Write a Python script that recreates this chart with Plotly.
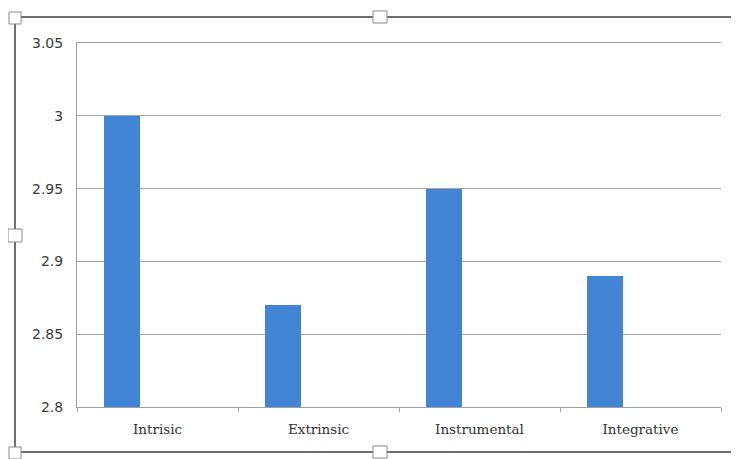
import plotly.graph_objects as go

categories = ["Intrisic", "Extrinsic", "Instrumental", "Integrative"]
values = [3.0, 2.87, 2.95, 2.89]
y_ticks = [2.8, 2.85, 2.9, 2.95, 3.0, 3.05]
y_tick_labels = ["2.8", "2.85", "2.9", "2.95", "3", "3.05"]

# the page body has an 8px margin, so the figure is drawn 8px lower/right
OFF = 8
W, H = 739 - OFF, 459 - OFF
L, R, T, B = 77 - OFF, 18, 43 - OFF, 52
PW, PH = W - L - R, H - T - B

def px(x):
    return (x - OFF - L) / PW

def py(y):
    return 1 - (y - OFF - T) / PH

fig = go.Figure()
fig.add_trace(go.Bar(
    x=categories, y=values,
    marker=dict(color="#4285d4", line=dict(width=0)),
    width=0.22, offset=-0.33,
))

shapes = []
frame = "#6e6e6e"
shapes.append(dict(type="line", xref="paper", yref="paper", x0=px(21), x1=px(739), y0=py(17), y1=py(17), line=dict(color=frame, width=2)))
shapes.append(dict(type="line", xref="paper", yref="paper", x0=px(21), x1=px(739), y0=py(452), y1=py(452), line=dict(color=frame, width=2)))
shapes.append(dict(type="line", xref="paper", yref="paper", x0=px(15), x1=px(15), y0=py(24), y1=py(447), line=dict(color=frame, width=2)))
for (x0, y0, x1, y1) in [(9, 12, 21, 24), (9, 447, 21, 459), (8, 229, 22, 242), (373, 11, 387, 23), (373, 446, 387, 458), (736, 225, 746, 245)]:
    shapes.append(dict(type="rect", xref="paper", yref="paper", x0=px(x0), x1=px(x1), y0=py(y0), y1=py(y1),
                       line=dict(color="#8a8a8a", width=1), fillcolor="white"))

fig.update_layout(
    width=W, height=H,
    margin=dict(l=L, r=R, t=T, b=B),
    paper_bgcolor="white", plot_bgcolor="white",
    showlegend=False,
    bargap=0,
    shapes=shapes,
    xaxis=dict(
        type="category",
        showline=True, linecolor="#a0a0a0", linewidth=1, mirror=True,
        ticks="outside", tickson="boundaries", ticklen=4, tickcolor="#a0a0a0",
        ticklabelstandoff=10,
        showgrid=False,
        tickfont=dict(family="DejaVu Serif", size=13.5, color="#333333"),
        range=[-0.5, 3.5],
    ),
    yaxis=dict(
        range=[2.8, 3.05],
        tickvals=y_ticks, ticktext=y_tick_labels,
        showgrid=True, gridcolor="#a6a6a6", gridwidth=1,
        showline=True, linecolor="#a0a0a0", linewidth=1,
        ticks="", ticklabelstandoff=10,
        zeroline=False,
        tickfont=dict(family="DejaVu Sans", size=14, color="#3a3a3a"),
    ),
)

fig.write_html("out.html")
